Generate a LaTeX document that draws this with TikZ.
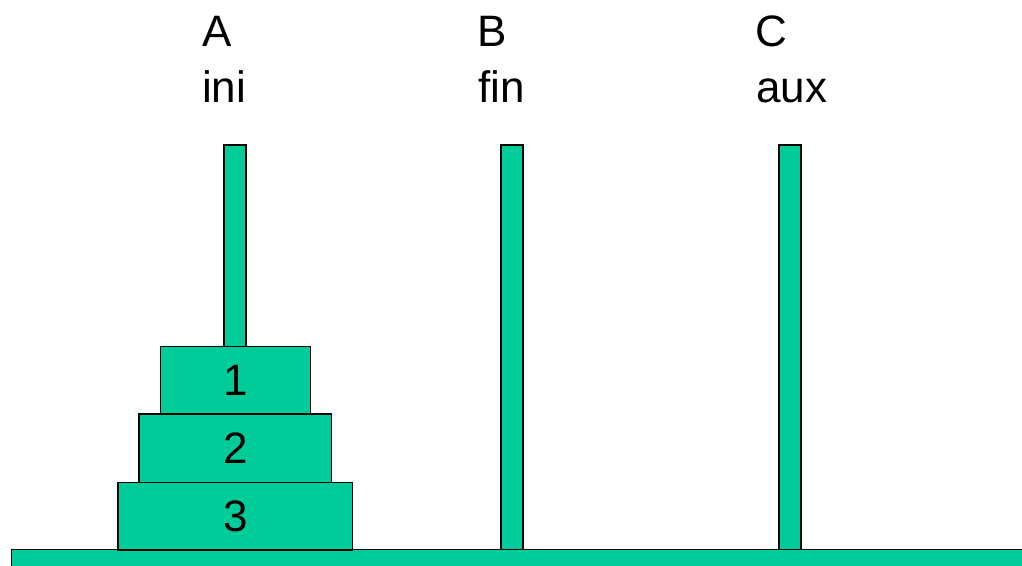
\documentclass[tikz,border=0pt]{standalone}
\usepackage{fontspec}
\setmainfont{Liberation Sans}
\definecolor{towergreen}{RGB}{0,204,153}
\begin{document}
\begin{tikzpicture}[x=1pt,y=1pt,
  solid part/.style={draw=black, line width=1.2pt, fill=towergreen, inner sep=0pt},
  peg/.style={solid part, minimum width=22pt, minimum height=405pt},
  disk/.style={solid part, font=\fontsize{44}{53}\selectfont},
  label text/.style={anchor=base west, inner sep=0pt, font=\fontsize{44}{53}\selectfont}]
  \useasboundingbox (0,0) rectangle (1022,565);
  \clip (0,0) rectangle (1022,565);

  % pegs
  \node[peg] (pegA) at (235,217.5) {};
  \node[peg] (pegB) at (512,217.5) {};
  \node[peg] (pegC) at (790,217.5) {};

  % base board
  \node[solid part, anchor=north west, minimum width=1030pt, minimum height=30pt] (board) at (11,16) {};

  % disks stacked on peg A
  \node[disk, minimum width=234.7pt, minimum height=67.7pt] (d3) at (235.3,48.85) {3};
  \node[disk, minimum width=192.7pt, minimum height=68.3pt] (d2) at (235.3,116.85) {2};
  \node[disk, minimum width=150pt, minimum height=67.3pt] (d1) at (235.3,184.65) {1};

  % peg names and roles
  \node[label text] (nA) at (202,518) {A};
  \node[label text] (rA) at (202,462) {ini};
  \node[label text] (nB) at (477,518) {B};
  \node[label text] (rB) at (478,462) {fin};
  \node[label text] (nC) at (755,518) {C};
  \node[label text] (rC) at (756,462) {aux};
\end{tikzpicture}
\end{document}
